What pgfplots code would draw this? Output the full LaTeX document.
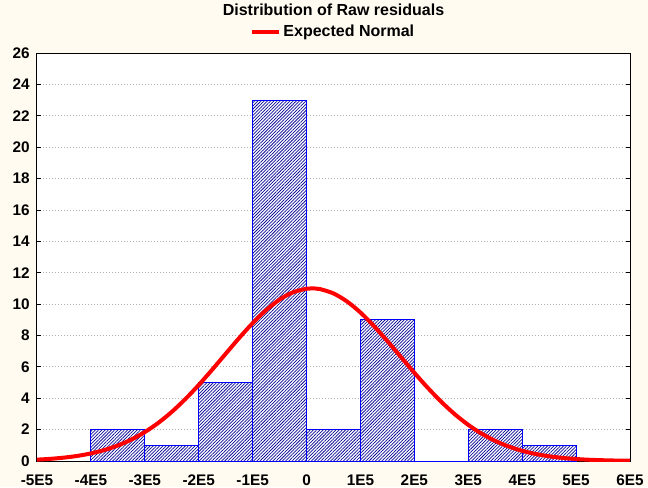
\documentclass[border=0pt]{standalone}
\usepackage{pgfplots}
\pgfplotsset{compat=1.18}
\usepackage{fontspec}
\setmainfont{Liberation Sans}
\usetikzlibrary{patterns.meta}
\definecolor{bgcream}{RGB}{255,251,240}
\definecolor{gridgray}{RGB}{175,175,175}
\definecolor{hatchblue}{RGB}{10,10,150}
\begin{document}
\begin{tikzpicture}
\fill[bgcream] (-27.75pt,-19.5pt) rectangle (458.25pt,345.75pt);
\begin{axis}[
  at={(0,0)}, anchor=south west,
  scale only axis, width=444.75pt, height=306pt,
  xmin=-5, xmax=6, ymin=0, ymax=26,
  xtick={-5,...,6},
  xticklabels={-5E5,-4E5,-3E5,-2E5,-1E5,0,1E5,2E5,3E5,4E5,5E5,6E5},
  ytick={0,2,...,26},
  ymajorgrids,
  grid style={gridgray, dash pattern=on 0.75pt off 1.5pt, line width=0.6pt},
  axis background/.style={fill=white},
  axis line style={black, line width=0.75pt},
  x tick style={draw=none},
  y tick style={black, line width=0.6pt},
  major tick length=3pt,
  tick align=inside,
  ytick pos=both,
  tick label style={font=\fontsize{11.5}{13}\selectfont\bfseries},
  x tick label style={yshift=-6.5pt, text height=8.5pt, text depth=0pt},
  y tick label style={xshift=-2pt},
  /pgf/number format/assume math mode=true,
  title={Distribution of Raw residuals},
  title style={at={(0.5,1)}, anchor=center, yshift=26.25pt,
    font=\fontsize{12}{14}\selectfont\bfseries},
  legend style={at={(0.5,1)}, anchor=center, yshift=15.75pt, draw=none, fill=none,
    font=\fontsize{12}{14}\selectfont\bfseries},
  legend image code/.code={\draw[#1, line width=3pt] (0pt,0pt) -- (20pt,0pt);},
]
% histogram of raw residuals (x in units of 1E5)
\addplot[ybar interval, draw=blue, line width=0.75pt, fill=white,
  postaction={pattern={Lines[angle=45,distance=1.7pt,line width=0.55pt]}, pattern color=hatchblue},
  forget plot] coordinates {
  (-4,2) (-3,1) (-2,5) (-1,23) (0,2) (1,9) (2,0) (3,2) (4,1) (5,1)
};
% expected normal
\addplot[red, line width=3pt, smooth] coordinates {
  (-5,0.087) (-4.75,0.139) (-4.5,0.215) (-4.25,0.326) (-4,0.483)
  (-3.75,0.699) (-3.5,0.989) (-3.25,1.366) (-3,1.843) (-2.75,2.430)
  (-2.5,3.131) (-2.25,3.940) (-2,4.846) (-1.75,5.822) (-1.5,6.834)
  (-1.25,7.839) (-1,8.784) (-0.75,9.617) (-0.5,10.288) (-0.25,10.752)
  (0,10.980) (0.1,11.0) (0.25,10.954) (0.5,10.678) (0.75,10.169)
  (1,9.462) (1.25,8.602) (1.5,7.641) (1.75,6.631) (2,5.622)
  (2.25,4.658) (2.5,3.770) (2.75,2.981) (3,2.303) (3.25,1.739)
  (3.5,1.283) (3.75,0.924) (4,0.651) (4.25,0.448) (4.5,0.301)
  (4.75,0.198) (5,0.127) (5.25,0.079) (5.5,0.049) (5.75,0.029) (6,0.017)
};
\addlegendentry{Expected Normal}
\end{axis}
\pgfresetboundingbox
\useasboundingbox (-27.75pt,-19.5pt) rectangle (458.25pt,345.75pt);
\end{tikzpicture}
\end{document}
